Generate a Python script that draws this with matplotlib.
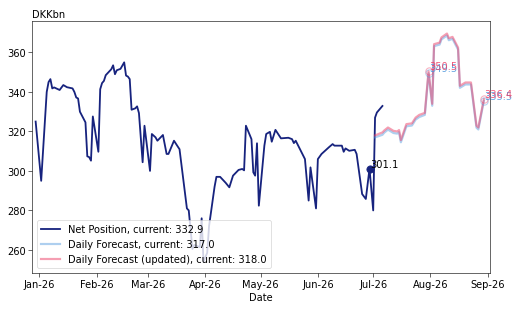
import pandas as pd
import matplotlib
matplotlib.use("Agg")
import matplotlib.pyplot as plt
import matplotlib.dates as mdates

# Net position (actuals)
net_dates = [
    "2025-12-30", "2026-01-02", "2026-01-05", "2026-01-06", "2026-01-07", "2026-01-08",
    "2026-01-09", "2026-01-12", "2026-01-14", "2026-01-16", "2026-01-19", "2026-01-20",
    "2026-01-21", "2026-01-22", "2026-01-23", "2026-01-26", "2026-01-27", "2026-01-28",
    "2026-01-29", "2026-01-30", "2026-02-02", "2026-02-03", "2026-02-04", "2026-02-05",
    "2026-02-06", "2026-02-09", "2026-02-10", "2026-02-11", "2026-02-12", "2026-02-14",
    "2026-02-16", "2026-02-17", "2026-02-18", "2026-02-19", "2026-02-20", "2026-02-22",
    "2026-02-23", "2026-02-24", "2026-02-26", "2026-02-27", "2026-03-02", "2026-03-03",
    "2026-03-05", "2026-03-06", "2026-03-09", "2026-03-11", "2026-03-12", "2026-03-15",
    "2026-03-17", "2026-03-18", "2026-03-22", "2026-03-23", "2026-03-25", "2026-03-26",
    "2026-03-29", "2026-03-30", "2026-03-31", "2026-04-02", "2026-04-03", "2026-04-06",
    "2026-04-07", "2026-04-09", "2026-04-12", "2026-04-14", "2026-04-16", "2026-04-19",
    "2026-04-21", "2026-04-22", "2026-04-23", "2026-04-26", "2026-04-27", "2026-04-28",
    "2026-04-29", "2026-04-30", "2026-05-03", "2026-05-04", "2026-05-06", "2026-05-07",
    "2026-05-09", "2026-05-12", "2026-05-16", "2026-05-18", "2026-05-19", "2026-05-20",
    "2026-05-25", "2026-05-27", "2026-05-28", "2026-05-31", "2026-06-01", "2026-06-03",
    "2026-06-07", "2026-06-09", "2026-06-10", "2026-06-14", "2026-06-15", "2026-06-16",
    "2026-06-18", "2026-06-21", "2026-06-22", "2026-06-25", "2026-06-27", "2026-06-29",
    "2026-07-01", "2026-07-02", "2026-07-03", "2026-07-06",
]
net_values = [
    325.0, 295.0, 340.0, 345.0, 346.5, 341.8,
    342.3, 341.0, 343.5, 342.4, 341.8, 340.0,
    337.2, 336.7, 330.0, 324.6, 307.4, 307.0,
    305.2, 327.6, 309.7, 341.4, 344.5, 345.6,
    348.5, 351.5, 353.5, 349.0, 351.0, 351.7,
    355.0, 348.3, 347.8, 346.5, 331.0, 331.7,
    332.7, 329.3, 304.4, 322.9, 300.0, 318.7,
    317.0, 315.3, 318.2, 308.6, 308.6, 315.3,
    312.4, 311.0, 281.0, 280.0, 260.5, 262.5,
    261.4, 276.0, 254.0, 258.5, 272.0, 292.0,
    297.0, 297.0, 294.0, 291.7, 297.6, 300.5,
    301.0, 300.3, 322.9, 316.1, 299.3, 297.6,
    314.0, 282.4, 312.8, 318.7, 319.8, 314.8,
    320.8, 316.5, 316.8, 316.1, 314.1, 315.3,
    306.0, 285.0, 301.8, 281.0, 306.0, 308.6,
    312.0, 313.6, 312.8, 312.8, 309.7, 311.4,
    310.2, 310.7, 308.6, 288.3, 285.8, 301.1,
    280.0, 327.0, 329.6, 332.9,
]

# Forecasts
fc_dates = [
    "2026-07-02", "2026-07-06", "2026-07-07", "2026-07-09", "2026-07-12", "2026-07-14",
    "2026-07-15", "2026-07-16", "2026-07-19", "2026-07-22", "2026-07-24", "2026-07-26",
    "2026-07-29", "2026-07-31", "2026-08-02", "2026-08-03", "2026-08-06", "2026-08-07",
    "2026-08-10", "2026-08-11", "2026-08-13", "2026-08-16", "2026-08-17", "2026-08-20",
    "2026-08-23", "2026-08-26", "2026-08-27", "2026-08-30",
]
fc_values = [
    317.0, 318.3, 319.4, 320.9, 319.2, 318.9,
    319.6, 314.5, 322.6, 323.0, 326.0, 327.3,
    328.4, 349.5, 333.0, 363.2, 364.0, 366.6,
    368.6, 366.2, 366.9, 361.5, 342.1, 343.8,
    343.8, 321.9, 321.0, 335.5,
]
fc_upd_values = [
    318.0, 319.5, 320.5, 322.0, 320.3, 320.0,
    320.7, 315.6, 323.7, 324.1, 327.0, 328.4,
    329.4, 350.5, 334.0, 364.2, 365.0, 367.6,
    369.6, 367.2, 367.9, 362.5, 343.1, 344.8,
    344.8, 322.9, 322.0, 336.4,
]

net_dates = pd.to_datetime(net_dates)
fc_dates = pd.to_datetime(fc_dates)

NAVY = "#17237e"
BLUE = "#4c96dc"
PINK = "#ec3f66"
FS = 13.5

fig, ax = plt.subplots(figsize=(10, 5.935), dpi=52.4)
fig.subplots_adjust(left=0.061, right=0.935, top=0.929, bottom=0.119)

ax.plot(net_dates, net_values, color=NAVY, linewidth=2.5,
        label=f"Net Position, current: {net_values[-1]:.1f}")
ax.plot(fc_dates, fc_values, color=BLUE, linewidth=3, alpha=0.45,
        label=f"Daily Forecast, current: {fc_values[0]:.1f}")
ax.plot(fc_dates, fc_upd_values, color=PINK, linewidth=3, alpha=0.5,
        label=f"Daily Forecast (updated), current: {fc_upd_values[0]:.1f}")

# marker on the net position
i_mark = list(net_dates).index(pd.Timestamp("2026-06-29"))
ax.plot(net_dates[i_mark], net_values[i_mark], "o", color=NAVY, markersize=10)
ax.annotate(f"{net_values[i_mark]:.1f}", (net_dates[i_mark], net_values[i_mark]),
            xytext=(1, 0), textcoords="offset points", fontsize=FS, va="bottom")

# hollow markers on forecast points
for d in ["2026-07-31", "2026-08-30"]:
    j = list(fc_dates).index(pd.Timestamp(d))
    for vals, col in [(fc_values, BLUE), (fc_upd_values, PINK)]:
        ax.plot(fc_dates[j], vals[j], "o", mfc="none", mec=col, markersize=10,
                mew=1.5, alpha=0.4)
        ax.annotate(f"{vals[j]:.1f}", (fc_dates[j], vals[j]), xytext=(1, 0),
                    textcoords="offset points", fontsize=FS, va="bottom",
                    color=col, alpha=0.85)

ax.set_xlim(pd.Timestamp("2025-12-28"), pd.Timestamp("2026-09-02 07:00"))
ax.set_ylim(248.3, 375.9)
ax.xaxis.set_major_locator(mdates.MonthLocator())
ax.xaxis.set_major_formatter(mdates.DateFormatter("%b-%y"))
ax.tick_params(labelsize=FS, length=5)
ax.set_title("DKKbn", loc="left", fontsize=FS)
ax.set_xlabel("Date", fontsize=FS)
ax.legend(loc="lower left", fontsize=FS)

plt.savefig("out.png", dpi=52.4)
